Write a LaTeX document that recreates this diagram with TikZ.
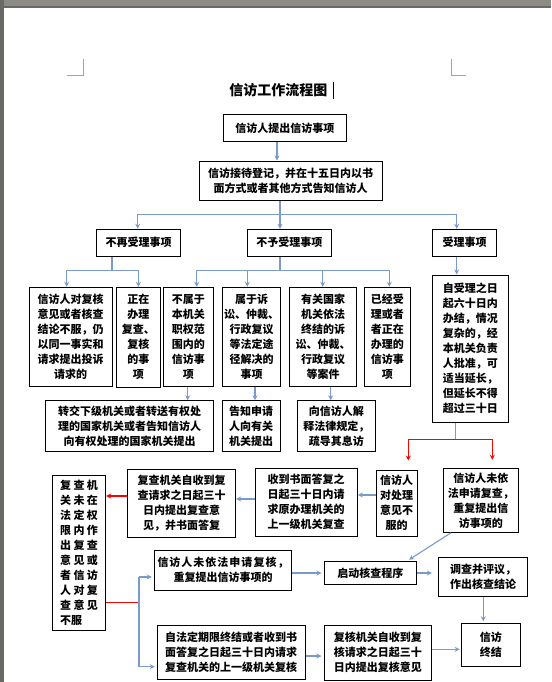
\documentclass[tikz,border=0pt]{standalone}
\usepackage{fontspec}
\setmainfont{Noto Sans CJK SC}
\usetikzlibrary{arrows.meta}
\definecolor{lineblue}{RGB}{122,155,200}
\definecolor{pagegrey}{RGB}{140,139,134}
\definecolor{edgegrey}{RGB}{105,105,102}
\definecolor{markgrey}{RGB}{165,165,165}
\newcommand\bx[6][]{\node[box,#1,minimum width={#4-#2},minimum height={#5-#3}] (#6) at ({(#2+#4)/2},{(#3+#5)/2})}
\begin{document}
\begin{tikzpicture}[x=1pt,y=-1pt,
  box/.style={draw=black,line width=1pt,inner sep=0pt,align=center,font=\fontsize{11}{15}\selectfont\bfseries},
  conn/.style={draw=lineblue,line width=1.1pt},
  arr/.style={conn,-{Stealth[length=5pt,width=5pt]}},
  rconn/.style={draw=red,line width=1.1pt},
  rarr/.style={rconn,-{Stealth[length=5pt,width=5pt]}}]
\useasboundingbox (0,0) rectangle (551,682);
% page background
\fill[pagegrey] (0,0) rectangle (551,682);
\fill[edgegrey] (0,6) rectangle (551,8.5);
\fill[edgegrey] (0,0) rectangle (3.5,682);
\fill[white] (3.5,8.5) rectangle (551,682);
\draw[markgrey,line width=0.8pt] (83,59) -- (83,75) -- (67,75);
\draw[markgrey,line width=0.8pt] (451,59) -- (451,75) -- (466,75);
% title
\node[font=\fontsize{14}{16}\selectfont\bfseries] (title) at (278.3,90) {信访工作流程图};
\draw[black,line width=1.6pt] (333.3,82) -- (333.3,99);
% boxes
\bx{223}{115}{346.7}{141.5}{b1} {信访人提出信访事项};
\bx{199}{161}{382.3}{200.7}{b2} {信访接待登记，并在十五日内以书\\面方式或者其他方式告知信访人};
\bx{96.7}{229.3}{180.7}{256}{r3a} {不再受理事项};
\bx{247.3}{229.3}{331.3}{256}{r3b} {不予受理事项};
\bx{432.7}{229.3}{496.7}{256}{r3c} {受理事项};
\bx{29}{287.3}{112.3}{386}{nA} {信访人对复核\\意见或者核查\\结论不服，仍\\以同一事实和\\请求提出投诉\\请求的};
\bx{116.7}{287.3}{160}{387}{nB} {正在\\办理\\复查、\\复核\\的事\\项};
\bx{163.3}{287.3}{213.3}{386}{nC} {不属于\\本机关\\职权范\\围内的\\信访事\\项};
\bx{222.7}{287.3}{280.7}{386}{nD} {属于诉\\讼、仲裁、\\行政复议\\等法定途\\径解决的\\事项};
\bx{289.3}{287.3}{356.7}{386}{nE} {有关国家\\机关依法\\终结的诉\\讼、仲裁、\\行政复议\\等案件};
\bx{364}{287.3}{410.7}{386}{nF} {已经受\\理或者\\者正在\\办理的\\信访事\\项};
\bx{432.5}{275}{508}{422.3}{J} {自受理之日\\起六十日内\\办结，情况\\复杂的，经\\本机关负责\\人批准，可\\适当延长，\\但延长不得\\超过三十日};
\bx{45.7}{400.7}{213.3}{451.7}{G} {转交下级机关或者转送有权处\\理的国家机关或者告知信访人\\向有权处理的国家机关提出};
\bx{222.3}{400.7}{280}{451.7}{H} {告知申请\\人向有关\\机关提出};
\bx{297.7}{400.7}{375}{451.7}{I} {向信访人解\\释法律规定，\\疏导其息访};
\bx{127.3}{469}{235.7}{537.3}{N} {复查机关自收到复\\查请求之日起三十\\日内提出复查意\\见，并书面答复};
\bx{255}{468.3}{357.3}{536}{M} {收到书面答复之\\日起三十日内请\\求原办理机关的\\上一级机关复查};
\bx{376}{470}{417.3}{536}{K} {信访人\\对处理\\意见不\\服的};
\bx{443.3}{468.3}{518.3}{532.3}{L} {信访人未依\\法申请复查，\\重复提出信\\访事项的};
\bx[align=left]{52.3}{475}{105.7}{630}{O} {复\kern2.3pt 查\kern2.3pt 机\\关\kern2.3pt 未\kern2.3pt 在\\法\kern2.3pt 定\kern2.3pt 权\\限\kern2.3pt 内\kern2.3pt 作\\出\kern2.3pt 复\kern2.3pt 查\\意\kern2.3pt 见\kern2.3pt 或\\者\kern2.3pt 信\kern2.3pt 访\\人\kern2.3pt 对\kern2.3pt 复\\查\kern2.3pt 意\kern2.3pt 见\\不服};
\bx{154.3}{550}{291.7}{590}{P} {信\kern1pt 访\kern1pt 人\kern1pt 未\kern1pt 依\kern1pt 法\kern1pt 申\kern1pt 请\kern1pt 复\kern1pt 核\kern1pt ，\\重复提出信访事项的};
\bx{324}{561.5}{416.7}{584.5}{R} {启动核查程序};
\bx{438.3}{557}{527.7}{596}{S} {调查并评议，\\作出核查结论};
\bx{157.3}{625}{305}{679.3}{Q} {自法定期限终结或者收到书\\面答复之日起三十日内请求\\复查机关的上一级机关复核};
\bx{324}{625}{431.7}{680.5}{T} {复核机关自收到复\\核请求之日起三十\\日内提出复核意见};
\bx{461.7}{623.3}{520}{666}{U} {信访\\终结};
% connectors
\draw[arr] (b1.south -| 277,0) -- (b2.north -| 277,0);
\coordinate (j1) at (280,214.3);
\draw[conn] (b2.south -| j1) -- (j1);
\draw[arr] (j1) -| (r3a.north -| 137.7,0);
\draw[arr] (j1) -- (r3b.north -| j1);
\draw[arr] (j1) -| (r3c.north -| 456.7,0);
\coordinate (j2) at (112,270.5);
\draw[conn] (r3a.south -| j2) -- (j2);
\draw[arr] (j2) -| (nA.north -| 66.7,0);
\draw[arr] (j2) -| (nB.north);
\coordinate (j3) at (280,270.5);
\draw[conn] (r3b.south -| j3) -- (j3);
\draw[arr] (j3) -| (nC.north -| 196.7,0);
\draw[arr] (j3) -| (nD.north -| 247.3,0);
\draw[arr] (j3) -| (nE.north -| 322.7,0);
\draw[arr] (j3) -| (nF.north -| 389.3,0);
\draw[arr] (r3c.south -| 456.7,0) -- (J.north -| 456.7,0);
\draw[arr] (nC.south -| 187.7,0) -- (G.north -| 187.7,0);
\draw[arr] (nD.south -| 255,0) -- (H.north -| 255,0);
\draw[arr] (nE.south -| 330.7,0) -- (I.north -| 330.7,0);
\coordinate (j4) at (455.7,439.3);
\draw[conn] (J.south -| j4) -- (j4);
\draw[rarr,shorten >=9pt] (j4) -| (K.north -| 408.3,0);
\draw[rarr,shorten >=8pt] (j4) -| (L.north -| 492.3,0);
\draw[arr] (K.west |- 0,495) -- (M.east |- 0,495);
\draw[arr] (M.west |- 0,499) -- (N.east |- 0,499);
\draw[rarr] (N.west |- 0,496) -- (O.east |- 0,496);
\coordinate (j5) at (139,602.3);
\draw[rconn] (O.east |- j5) -- (j5);
\draw[conn] (j5) -- (139,577);
\draw[arr,shorten >=2pt] (139,577) -- (P.west |- 0,577);
\draw[arr,shorten >=2pt] (j5) |- (Q.west |- 0,666.7);
\draw[arr,shorten >=2pt] (P.east |- R.west) -- (R.west);
\draw[arr,shorten >=2.5pt] (L.south -| 451,0) -- (R.north -| 407,0);
\draw[arr,shorten >=6pt] (R.east) -- (S.west |- R.east);
\draw[arr,shorten >=1.5pt] (S.south -| 483.3,0) -- (U.north -| 483.3,0);
\draw[arr,shorten >=2pt] (Q.east |- 0,656) -- (T.west |- 0,656);
\draw[arr,shorten >=1.5pt] (T.east |- 0,649.3) -- (U.west |- 0,649.3);
\end{tikzpicture}
\end{document}
